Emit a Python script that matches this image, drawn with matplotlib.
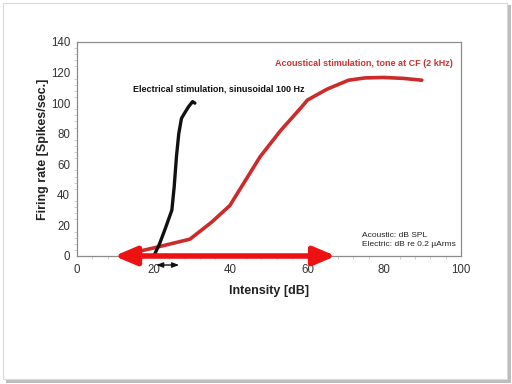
import matplotlib
matplotlib.use("Agg")
import matplotlib.pyplot as plt
from matplotlib.patches import Rectangle
from matplotlib.ticker import MultipleLocator

plt.rcParams['font.family'] = ['Liberation Sans', 'DejaVu Sans']

# Data
elec_x = [20.0, 21.5, 23.0, 24.7, 25.3, 25.9, 26.5, 27.2, 27.9, 29.0, 30.1, 30.7]
elec_y = [0.0, 8.0, 18.0, 30.0, 45.0, 65.0, 80.0, 90.0, 93.0, 97.5, 101.0, 100.0]
acou_x = [13.0, 20.7, 29.4, 35.0, 39.8, 44.0, 47.7, 53.0, 58.5, 60.0, 65.0, 70.7, 75.0, 79.8, 85.0, 89.8]
acou_y = [1.3, 5.7, 11.0, 22.0, 33.0, 50.0, 65.0, 82.0, 97.5, 102.0, 109.0, 115.0, 116.5, 116.8, 116.2, 115.0]
red_arrow_x = [9.7, 67.4]
black_arrow_x = [20.6, 26.6]
black_arrow_y = -5.9

xticks = [0, 20, 40, 60, 80, 100]
yticks = [0, 20, 40, 60, 80, 100, 120, 140]

fig = plt.figure(figsize=(5.12, 3.84), dpi=100)

# card with shadow
fig.patches.append(Rectangle((6/512, 1 - 383/384), 505/512, 378/384, transform=fig.transFigure,
                             facecolor='#bdbdbd', edgecolor='none', zorder=-3))
fig.patches.append(Rectangle((3/512, 1 - 379/384), 504/512, 376/384, transform=fig.transFigure,
                             facecolor='white', edgecolor='#d9d9d9', linewidth=0.8, zorder=-2))

ax = fig.add_axes([77/512, 1 - 256/384, 384/512, 214/384])
ax.set_facecolor('none')
ax.set_xlim(0, 100)
ax.set_ylim(0, 140)
ax.set_xticks(xticks)
ax.set_yticks(yticks)
ax.xaxis.set_minor_locator(MultipleLocator(4))
ax.yaxis.set_minor_locator(MultipleLocator(4))
ax.tick_params(which='major', length=0, labelsize=8.3, colors='#333333', pad=6)
ax.tick_params(axis='y', which='major', pad=5)
ax.tick_params(which='minor', length=2, color='#c8c8c8', width=0.6)
for s in ax.spines.values():
    s.set_color('#8c8c8c')
    s.set_linewidth(0.9)

ax.set_xlabel('Intensity [dB]', fontsize=9, fontweight='bold', color='#222222', labelpad=6)
ax.set_ylabel('Firing rate [Spikes/sec.]', fontsize=9, fontweight='bold', color='#222222', labelpad=1)

ax.plot(acou_x, acou_y, color='#cc2b2b', linewidth=2.6, solid_capstyle='round', clip_on=False, zorder=3)
ax.plot(elec_x, elec_y, color='#111111', linewidth=2.4, solid_capstyle='round', clip_on=False, zorder=4)

ax.annotate('', xy=(red_arrow_x[0], 0), xytext=(red_arrow_x[1], 0),
            arrowprops=dict(arrowstyle='<|-|>,head_length=1.3,head_width=0.55', color='#ee1111',
                            linewidth=4.0, shrinkA=0, shrinkB=0),
            annotation_clip=False, zorder=5)
ax.annotate('', xy=(black_arrow_x[0], black_arrow_y), xytext=(black_arrow_x[1], black_arrow_y),
            arrowprops=dict(arrowstyle='<|-|>,head_length=0.4,head_width=0.15', color='#111111',
                            linewidth=1.0, shrinkA=0, shrinkB=0),
            annotation_clip=False, zorder=5)

ax.text(14.6, 109, 'Electrical stimulation, sinusoidal 100 Hz', fontsize=6.5, fontweight='bold',
        color='#111111', va='center', ha='left')
ax.text(97.9, 126, 'Acoustical stimulation, tone at CF (2 kHz)', fontsize=6.5, fontweight='bold',
        color='#cc3333', va='center', ha='right')
ax.text(74.1, 13.7, 'Acoustic: dB SPL', fontsize=6, color='#222222', va='center', ha='left')
ax.text(74.1, 7.2, 'Electric: dB re 0.2 µArms', fontsize=6, color='#222222', va='center', ha='left')

fig.savefig('out.png', dpi=100)
